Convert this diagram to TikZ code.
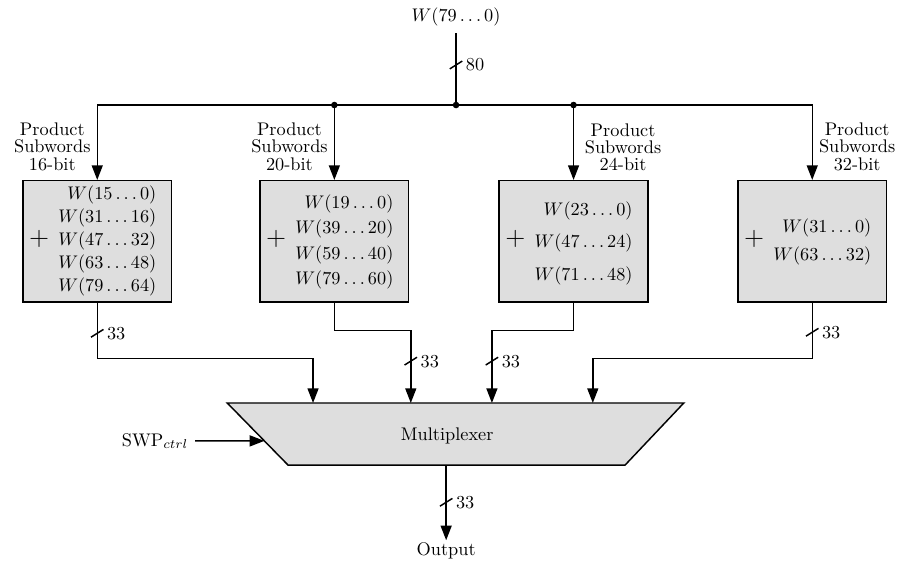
\documentclass[tikz,border=0pt]{standalone}
\usepackage{amsmath, amssymb}
\usepackage{tikz}
\usetikzlibrary{arrows.meta,positioning,calc}

\newcommand{\subw}[2]{{\Large$+$}\renewcommand{\arraystretch}{#1}$\begin{array}{r}#2\end{array}$}
\newcommand{\buswidth}[3]{%
  \draw ($(#2)+(-0.12,-0.075)$) -- ($(#2)+(0.12,0.075)$);
  \node[bwlabel] (#1) at ($(#2)+(0.14,0)$) {#3};}

\begin{document}
\begin{tikzpicture}[thick, >={Triangle[length=8pt,width=6pt]},
  blk/.style={draw, fill=black!13, minimum width=2.86cm, minimum height=2.33cm, inner sep=0pt},
  lbl/.style={align=center, font=\linespread{0.78}\selectfont, inner xsep=3.3pt, inner ysep=4.8pt},
  bwlabel/.style={anchor=west, inner sep=1pt},
  dot/.style={circle, fill, inner sep=0pt, minimum size=3.6pt}]

\useasboundingbox (0,0) rectangle (17.25,10.81);

% input word and bus
\node (win) at (8.77,10.48) {$W(79\ldots0)$};
\coordinate (hub) at (8.77,8.79);

% subword blocks
\node[blk] (b1) at (1.87,6.17) {\subw{1.05}{W(15\ldots0)\\W(31\ldots16)\\W(47\ldots32)\\W(63\ldots48)\\W(79\ldots64)}};
\node[blk] (b2) at (6.43,6.17) {\subw{1.16}{W(19\ldots0)\\W(39\ldots20)\\W(59\ldots40)\\W(79\ldots60)}};
\node[blk] (b3) at (11.03,6.17) {\subw{1.48}{W(23\ldots0)\\W(47\ldots24)\\W(71\ldots48)}};
\node[blk] (b4) at (15.62,6.17) {\subw{1.26}{W(31\ldots0)\\W(63\ldots32)}};

\node[lbl, anchor=south east] (l1) at (b1.north) {Product\\Subwords\\16-bit};
\node[lbl, anchor=south east] (l2) at (b2.north) {Product\\Subwords\\20-bit};
\node[lbl, anchor=south west] (l3) at ([xshift=2.5pt]b3.north) {Product\\Subwords\\24-bit};
\node[lbl, anchor=south west] (l4) at (b4.north) {Product\\Subwords\\32-bit};

\draw (win) -- (hub);
\draw[->] (hub) -| (b1.north);
\draw[->] (hub) -| (b4.north);
\draw[->] (b2.north |- hub) -- (b2.north);
\draw[->] (b3.north |- hub) -- (b3.north);
\node[dot] (d1) at (hub) {};
\node[dot] (d2) at (b2.north |- hub) {};
\node[dot] (d3) at (b3.north |- hub) {};

% multiplexer
\coordinate (mtl) at (4.37,3.06);
\coordinate (mtr) at (13.15,3.06);
\coordinate (mbr) at (12.02,1.865);
\coordinate (mbl) at (5.54,1.865);
\draw[fill=black!13] (mtl) -- (mtr) -- (mbr) -- (mbl) -- cycle;
\node (mux) at (8.6,2.42) {Multiplexer};

\coordinate (in1) at (6.02,3.06);
\coordinate (in2) at (7.90,3.06);
\coordinate (in3) at (9.46,3.06);
\coordinate (in4) at (11.40,3.06);
\draw[->] (b1.south) -- ++(0,-1.08) -| (in1);
\draw[->] (b2.south) -- ++(0,-0.54) -| (in2);
\draw[->] (b3.south) -- ++(0,-0.54) -| (in3);
\draw[->] (b4.south) -- ++(0,-1.08) -| (in4);

\node[anchor=east] (swp) at (3.75,2.33) {SWP$_{ctrl}$};
\draw[->] (swp) -- ($(mtl)!0.61!(mbl)$);

\coordinate (mout) at (8.58,1.865);
\node[anchor=north, inner sep=1pt] (out) at (8.58,0.42) {Output};
\draw[->] (mout) -- (out);

% bus widths
\coordinate (s0) at (8.77,9.56);
\coordinate (s1) at (b1.south |- 0,4.40);
\coordinate (s2) at (7.90,3.865);
\coordinate (s3) at (9.46,3.865);
\coordinate (s4) at (b4.south |- 0,4.42);
\coordinate (s5) at (8.58,1.15);
\buswidth{n0}{s0}{80}
\buswidth{n1}{s1}{33}
\buswidth{n2}{s2}{33}
\buswidth{n3}{s3}{33}
\buswidth{n4}{s4}{33}
\buswidth{n5}{s5}{33}
\end{tikzpicture}
\end{document}
